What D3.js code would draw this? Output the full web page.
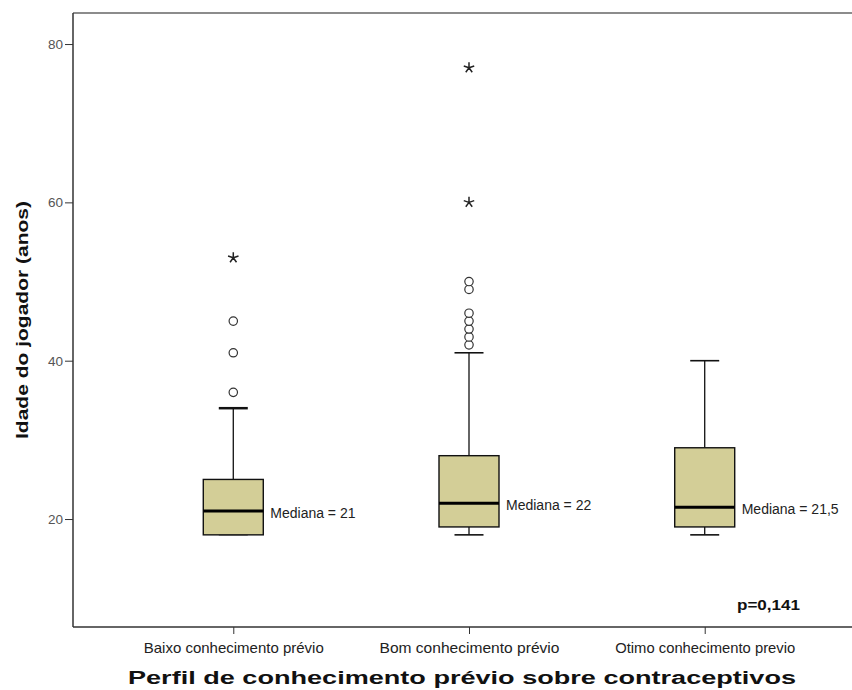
<!DOCTYPE html>
<html>
<head>
<meta charset="utf-8">
<script src="https://cdn.jsdelivr.net/npm/d3@7"></script>
<style>
  body { margin: 0; background: #fff; }
  svg { font-family: "Liberation Sans", Arial, sans-serif; }
</style>
</head>
<body>
<svg width="852" height="690"></svg>
<script>
// Data
const categories = ['Baixo conhecimento prévio', 'Bom conhecimento prévio', 'Otimo conhecimento previo'];
const lowWhisker = [18, 18, 18];
const q1 = [18, 19, 19];
const median = [21, 22, 21.5];
const q3 = [25, 28, 29];
const highWhisker = [34, 41, 40];
const medianLabels = ['Mediana = 21', 'Mediana = 22', 'Mediana = 21,5'];
const outliers = [[36, 41, 45], [42, 43, 44, 45, 46, 49, 50], []];
const extremes = [[53], [60, 77], []];
const yTicks = [20, 40, 60, 80];

const svg = d3.select('svg');

// scales
const y = d3.scaleLinear().domain([6.36, 83.92]).range([627, 13]);
const x = d3.scalePoint().domain(categories).range([73, 865]).padding(0.68);

const boxW = 60, capW = 29;

// frame: grey top border
svg.append('line')
  .attr('x1', 73).attr('x2', 852).attr('y1', 13).attr('y2', 13)
  .attr('stroke', '#8c8c8c').attr('stroke-width', 2);

// y axis
const yAxis = svg.append('g')
  .attr('transform', 'translate(73,0)')
  .call(d3.axisLeft(y).tickValues(yTicks).tickSize(8).tickPadding(2).tickFormat(d3.format('d')));
yAxis.select('.domain').attr('stroke', '#333').attr('stroke-width', 1.5).attr('d', 'M0,13V627');
yAxis.selectAll('.tick line').attr('stroke', '#333');
yAxis.selectAll('.tick text').attr('font-size', 13.5).attr('fill', '#555')
  .attr('font-family', '"Liberation Sans", Arial, sans-serif');

// x axis
const xAxis = svg.append('g')
  .attr('transform', 'translate(0,627)')
  .call(d3.axisBottom(x).tickSize(7).tickPadding(9));
xAxis.select('.domain').attr('stroke', '#333').attr('stroke-width', 1.5).attr('d', 'M73,0H852');
xAxis.selectAll('.tick line').attr('stroke', '#333');
xAxis.selectAll('.tick text').attr('font-size', 14.5).attr('fill', '#222')
  .attr('font-family', '"Liberation Sans", Arial, sans-serif')
  .attr('textLength', 180).attr('lengthAdjust', 'spacingAndGlyphs');

// axis titles
svg.append('text')
  .attr('transform', `translate(28,${(200 + 440) / 2}) rotate(-90)`)
  .attr('text-anchor', 'middle')
  .attr('font-size', 16.5).attr('font-weight', 'bold').attr('fill', '#111')
  .attr('textLength', 238).attr('lengthAdjust', 'spacingAndGlyphs')
  .text('Idade do jogador (anos)');

svg.append('text')
  .attr('x', 462).attr('y', 684)
  .attr('text-anchor', 'middle')
  .attr('font-size', 17.5).attr('font-weight', 'bold').attr('fill', '#111')
  .attr('textLength', 668).attr('lengthAdjust', 'spacingAndGlyphs')
  .text('Perfil de conhecimento prévio sobre contraceptivos');

// boxes
categories.forEach((c, i) => {
  const cx = x(c);
  const g = svg.append('g');

  // whiskers
  g.append('line').attr('x1', cx).attr('x2', cx)
    .attr('y1', y(q3[i])).attr('y2', y(highWhisker[i]))
    .attr('stroke', '#111').attr('stroke-width', 1.3);
  g.append('line').attr('x1', cx).attr('x2', cx)
    .attr('y1', y(q1[i])).attr('y2', y(lowWhisker[i]))
    .attr('stroke', '#111').attr('stroke-width', 1.3);
  [highWhisker[i], lowWhisker[i]].forEach(v => {
    g.append('line').attr('x1', cx - capW / 2).attr('x2', cx + capW / 2)
      .attr('y1', y(v)).attr('y2', y(v))
      .attr('stroke', v === q1[i] ? '#777' : '#111').attr('stroke-width', v === highWhisker[i] && i === 0 ? 2.5 : 1.6);
  });

  // box
  g.append('rect')
    .attr('x', cx - boxW / 2).attr('width', boxW)
    .attr('y', y(q3[i])).attr('height', y(q1[i]) - y(q3[i]))
    .attr('fill', '#d3ce97').attr('stroke', '#111').attr('stroke-width', 1.4);

  // median
  g.append('line').attr('x1', cx - boxW / 2).attr('x2', cx + boxW / 2)
    .attr('y1', y(median[i])).attr('y2', y(median[i]))
    .attr('stroke', '#000').attr('stroke-width', 3);
  g.append('text')
    .attr('x', cx + boxW / 2 + 7).attr('y', y(median[i]) + 7)
    .attr('font-size', 14).attr('fill', '#222')
    .text(medianLabels[i]);

  // outliers
  g.selectAll('circle').data(outliers[i]).join('circle')
    .attr('cx', cx).attr('cy', d => y(d)).attr('r', 4.2)
    .attr('fill', '#fff').attr('stroke', '#333').attr('stroke-width', 1.2);

  // extremes: five-armed asterisk
  const star = d3.range(5).map(k => {
    const a = -Math.PI / 2 + k * 2 * Math.PI / 5;
    return `M0,0L${(5.5 * Math.cos(a)).toFixed(2)},${(5.5 * Math.sin(a)).toFixed(2)}`;
  }).join('');
  g.selectAll('path.star').data(extremes[i]).join('path')
    .attr('class', 'star')
    .attr('transform', d => `translate(${cx},${y(d)})`)
    .attr('d', star)
    .attr('stroke', '#222').attr('stroke-width', 1.5).attr('fill', 'none');
});

// p-value
svg.append('text')
  .attr('x', 800).attr('y', 610)
  .attr('text-anchor', 'end')
  .attr('font-size', 15).attr('font-weight', 'bold').attr('fill', '#111')
  .attr('textLength', 63).attr('lengthAdjust', 'spacingAndGlyphs')
  .text('p=0,141');
</script>
</body>
</html>
